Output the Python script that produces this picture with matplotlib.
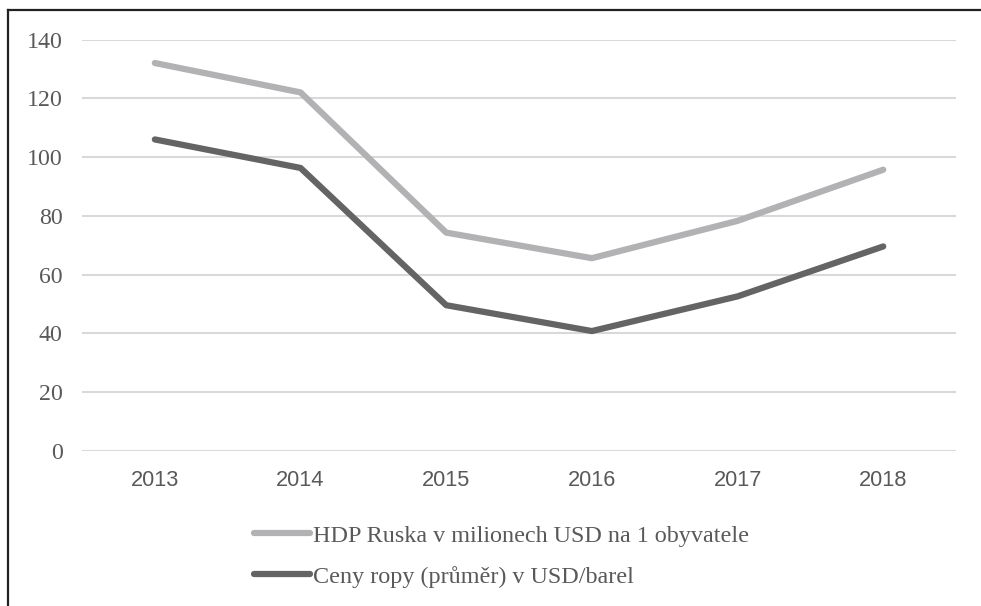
import numpy as np
import matplotlib
matplotlib.use('Agg')
import matplotlib.pyplot as plt
from matplotlib.lines import Line2D

roky = ['2013', '2014', '2015', '2016', '2017', '2018']
hdp = [132, 122, 74.3, 65.6, 78.3, 95.7]
ropa = [106, 96.3, 49.6, 40.8, 52.6, 69.6]
popisky = ['HDP Ruska v milionech USD na 1 obyvatele',
           'Ceny ropy (průměr) v USD/barel']

serif = 'Liberation Serif'
sans = 'Liberation Sans'
text_col = '#595959'

fig = plt.figure(figsize=(9.81, 6.06), dpi=100)
ax = fig.add_axes([0.0836, 0.2558, 0.891, 0.679])

x = np.arange(len(roky))
ax.plot(x, hdp, color='#B2B2B5', lw=4.5, solid_capstyle='round',
        solid_joinstyle='round', label=popisky[0])
ax.plot(x, ropa, color='#646464', lw=4.5, solid_capstyle='round',
        solid_joinstyle='round', label=popisky[1])

ax.set_xlim(-0.5, len(roky) - 0.5)
ax.set_ylim(0, 140)
ax.set_yticks(np.arange(0, 141, 20))
ax.set_xticks(x)
ax.set_xticklabels(roky, fontfamily=sans, fontsize=15.7, color=text_col)
for lab in ax.get_yticklabels():
    lab.set_fontfamily(serif)
    lab.set_fontsize(17.2)
    lab.set_color(text_col)
ax.tick_params(axis='both', length=0)
ax.tick_params(axis='x', pad=14)
ax.tick_params(axis='y', pad=14)
ax.grid(axis='y', color='#D9D9D9', lw=1.5)
ax.set_axisbelow(True)
for s in ax.spines.values():
    s.set_visible(False)

leg = fig.legend(loc='upper left', bbox_to_anchor=(254 / 981, 1 - 525 / 606),
                 frameon=False, prop={'family': serif, 'size': 17.4},
                 handlelength=2.3, handletextpad=0.15, labelspacing=0.78,
                 borderpad=0, borderaxespad=0)
for t in leg.get_texts():
    t.set_color(text_col)

# ramecek kolem grafu (jen horni a leva hrana jsou videt)
y_top = 1 - 10 / 606
x_left = 8 / 981
fig.add_artist(Line2D([x_left, 1.0], [y_top, y_top], transform=fig.transFigure,
                      color='#222222', lw=1.6))
fig.add_artist(Line2D([x_left, x_left], [0, y_top], transform=fig.transFigure,
                      color='#222222', lw=1.6))

fig.savefig('out.png', dpi=100)
